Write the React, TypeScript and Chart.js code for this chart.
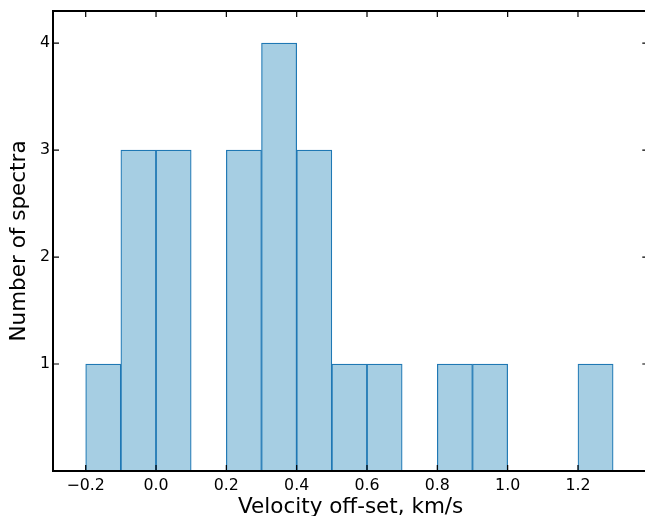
import React, { useEffect, useRef } from 'react';
import { Chart, registerables } from 'chart.js';

Chart.register(...registerables);

// Histogram of velocity off-sets: left edge of each 0.1 km/s bin and its count
const binStarts = [-0.2, -0.1, 0.0, 0.1, 0.2, 0.3, 0.4, 0.5, 0.6, 0.7, 0.8, 0.9, 1.0, 1.1, 1.2];
const counts = [1, 3, 3, 0, 3, 4, 3, 1, 1, 0, 1, 1, 0, 0, 1];
const binWidth = 0.1;

const xTicks = [-0.2, 0.0, 0.2, 0.4, 0.6, 0.8, 1.0, 1.2];
const yTicks = [1, 2, 3, 4];

const xLabel = 'Velocity off-set, km/s';
const yLabel = 'Number of spectra';

const FONT = "'DejaVu Sans', sans-serif";
// The canvas is a little wider than the visible window so the frame's right side falls just outside it
const VIEW_W = 645;
const CANVAS_W = 652;
const H = 516;

const formatX = (v: number) => {
  const s = (Math.round(v * 10) / 10).toFixed(1);
  return s.replace('-', '\u2212');
};

// Boxed frame with inward-pointing ticks on all four sides
const frameTicks = {
  id: 'frameTicks',
  afterDatasetsDraw(chart: any) {
    const { ctx, chartArea: a, scales } = chart;
    const xs = scales.x;
    const ys = scales.y;
    const len = 6;
    ctx.save();
    ctx.strokeStyle = '#000';
    ctx.lineWidth = 1.2;
    ctx.beginPath();
    xTicks.forEach((v) => {
      const px = xs.getPixelForValue(v);
      ctx.moveTo(px, a.bottom);
      ctx.lineTo(px, a.bottom - len);
      ctx.moveTo(px, a.top);
      ctx.lineTo(px, a.top + len);
    });
    yTicks.forEach((v) => {
      const py = ys.getPixelForValue(v);
      ctx.moveTo(a.left, py);
      ctx.lineTo(a.left + len, py);
      ctx.moveTo(a.right, py);
      ctx.lineTo(a.right - len, py);
    });
    ctx.stroke();
    ctx.lineWidth = 2;
    ctx.strokeRect(a.left, a.top, a.right - a.left, a.bottom - a.top);
    ctx.restore();
  },
};

export default function App() {
  const canvasRef = useRef<HTMLCanvasElement | null>(null);

  useEffect(() => {
    const canvas = canvasRef.current;
    if (!canvas) return;
    const chart = new Chart(canvas, {
      type: 'bar',
      data: {
        datasets: [
          {
            data: binStarts.map((s, i) => ({ x: s + binWidth / 2, y: counts[i] })),
            backgroundColor: '#a6cee3',
            borderColor: '#1f78b4',
            borderWidth: 1.2,
            borderSkipped: 'start',
            barPercentage: 1,
            categoryPercentage: 1,
          },
        ],
      },
      options: {
        responsive: false,
        animation: false,
        devicePixelRatio: 1,
        events: [],
        layout: { padding: { left: 0, right: 3.7, top: 11, bottom: 0 } },
        plugins: {
          legend: { display: false },
          tooltip: { enabled: false },
        },
        scales: {
          x: {
            type: 'linear',
            min: -0.293,
            max: 1.4,
            offset: false,
            grid: { display: false, drawTicks: false },
            border: { display: false },
            afterBuildTicks: (s: any) => {
              s.ticks = xTicks.map((v) => ({ value: v }));
            },
            afterFit: (s: any) => {
              s.height = 45;
              s.paddingLeft = 0;
              s.paddingRight = 0;
            },
            ticks: {
              padding: 5,
              color: '#000',
              autoSkip: false,
              maxRotation: 0,
              font: { family: FONT, size: 15.8 },
              callback: (v: any) => formatX(Number(v)),
            },
            title: {
              display: true,
              text: xLabel,
              color: '#000',
              font: { family: FONT, size: 21.5 },
              padding: { top: 0, bottom: -4 },
            },
          },
          y: {
            type: 'linear',
            min: 0,
            max: 4.3,
            grid: { display: false, drawTicks: false },
            border: { display: false },
            afterBuildTicks: (s: any) => {
              s.ticks = yTicks.map((v) => ({ value: v }));
            },
            afterFit: (s: any) => {
              s.width = 53;
              s.paddingTop = 0;
              s.paddingBottom = 0;
            },
            ticks: {
              padding: 3,
              color: '#000',
              font: { family: FONT, size: 15.8 },
              callback: (v: any) => String(v),
            },
            title: {
              display: true,
              text: yLabel,
              color: '#000',
              font: { family: FONT, size: 21.5 },
              padding: { top: 7, bottom: 0 },
            },
          },
        },
      },
      plugins: [frameTicks],
    } as any);
    return () => chart.destroy();
  }, []);

  return (
    <div style={{ position: 'fixed', left: 0, top: 0, width: VIEW_W, height: H, overflow: 'hidden', background: '#fff' }}>
      <canvas ref={canvasRef} width={CANVAS_W} height={H} style={{ width: CANVAS_W, height: H, display: 'block' }} />
    </div>
  );
}
